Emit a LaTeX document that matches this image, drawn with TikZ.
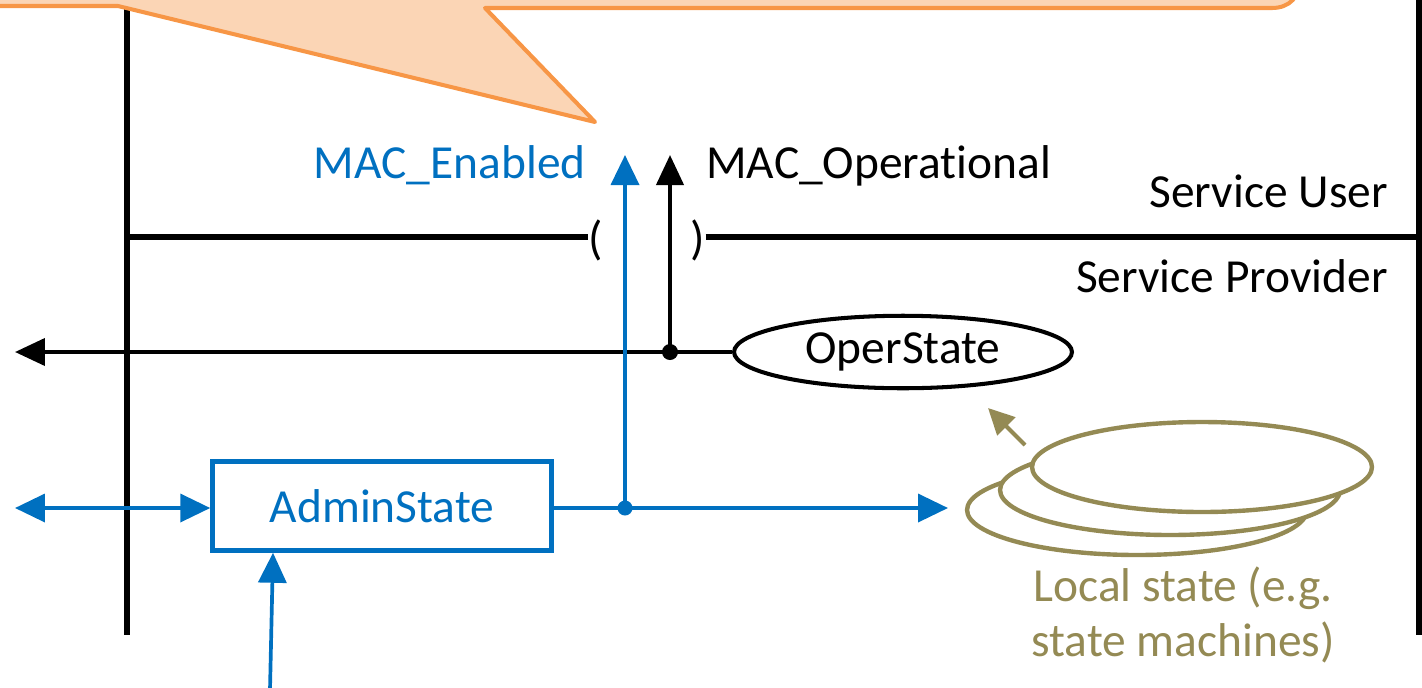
\documentclass[tikz,border=0pt]{standalone}
\usepackage{fontspec}
\setmainfont{Carlito}[Ligatures=NoCommon]
\usetikzlibrary{arrows.meta,shapes.geometric}
\definecolor{cblue}{HTML}{0070C0}
\definecolor{colive}{HTML}{948A54}
\definecolor{corange}{HTML}{F79646}
\definecolor{cpeach}{HTML}{FBD5B5}
\tikzset{
  heavy/.style={line width=3pt, black},
  karrow/.style={line width=2.3pt, black, -{Triangle[length=0.6cm,width=0.54cm]}},
  barrow/.style={line width=2.1pt, cblue, -{Triangle[length=0.6cm,width=0.56cm]}},
  bdouble/.style={line width=2.1pt, cblue, {Triangle[length=0.6cm,width=0.56cm]}-{Triangle[length=0.6cm,width=0.56cm]}},
  oarrow/.style={line width=2.3pt, colive, -{Triangle[length=0.52cm,width=0.5cm]}},
  callout/.style={line width=2.3pt, draw=corange, fill=cpeach, line join=round},
  adminbox/.style={draw=cblue, line width=2.6pt, text=cblue, minimum width=6.78cm, minimum height=1.78cm, inner sep=0pt},
  operell/.style={ellipse, draw=black, line width=2.3pt, minimum width=6.76cm, minimum height=1.45cm, inner sep=0pt},
  stackell/.style={ellipse, draw=colive, fill=white, line width=2.5pt, minimum width=6.8cm, minimum height=1.8cm, inner sep=0pt},
  kdot/.style={circle, fill=black, minimum size=0.32cm, inner sep=0pt},
  bdot/.style={circle, fill=cblue, minimum size=0.3cm, inner sep=0pt},
  lbl/.style={inner sep=0pt}
}
\begin{document}
\begin{tikzpicture}[x=0.02cm, y=-0.02cm, font=\fontsize{27}{31}\selectfont]
\useasboundingbox (0,0) rectangle (1422,687);
\clip (0,0) rectangle (1422,687);

% vertical boundary lines
\coordinate (lvt) at (127,0);
\coordinate (lvb) at (127,635);
\coordinate (rvt) at (1419,0);
\coordinate (rvb) at (1419,635);
\draw[heavy] (lvt) -- (lvb);
\draw[heavy] (rvt) -- (rvb);

% callout
\filldraw[callout] (-30,-80) -- (-30,6) -- (118,6) -- (595,122) -- (485,8) -- (1272,8)
  .. controls (1290,8) and (1300,-4) .. (1300,-20) -- (1300,-80) -- cycle;

% service boundary with parentheses
\node[lbl] (lp) at (596,240) {(};
\node[lbl] (rp) at (698,240) {)};
\coordinate (bl) at (127,237);
\coordinate (br) at (1422,237);
\draw[heavy] (bl) -- (lp.west |- bl);
\draw[heavy] (rp.east |- br) -- (br);

\node[lbl, anchor=east] (su) at (1388,191) {Service User};
\node[lbl, anchor=east] (sp) at (1388,276) {Service Provider};

% OperState
\node[operell] (oper) at (903,352) {OperState};
\node[kdot] (kd) at (670,352) {};
\coordinate (kleft) at (15,352);
\coordinate (ktop) at (670,155);
\draw[karrow] (oper.west) -- (kleft);
\draw[karrow] (kd.center) -- (ktop);
\node[lbl, anchor=west] (mo) at (706,166) {MAC\_Operational};

% AdminState
\node[adminbox] (admin) at (382,506) {AdminState};
\node[bdot] (bd) at (625,508) {};
\coordinate (bleft) at (15,508);
\coordinate (bright) at (948,508);
\coordinate (btop) at (625,155);
\coordinate (bin) at (270,690);
\draw[bdouble] (bleft) -- (admin.west |- bleft);
\draw[barrow] (admin.east |- bd) -- (bright);
\draw[barrow] (bd.center) -- (btop);
\draw[barrow] (bin) -- ([xshift=-2.18cm]admin.south);
\node[lbl, anchor=east, text=cblue] (me) at (586,165) {MAC\_Enabled};

% local state stack
\node[stackell] (e1) at (1137,510) {};
\node[stackell] (e2) at (1170,490) {};
\node[stackell] (e3) at (1202,467) {};
\coordinate (oa) at (1025,445);
\coordinate (ob) at (988,408);
\draw[oarrow] (oa) -- (ob);
\node[lbl, text=colive, align=center] (ls) at (1183,615) {Local state (e.g.\\state machines)};
\end{tikzpicture}
\end{document}
